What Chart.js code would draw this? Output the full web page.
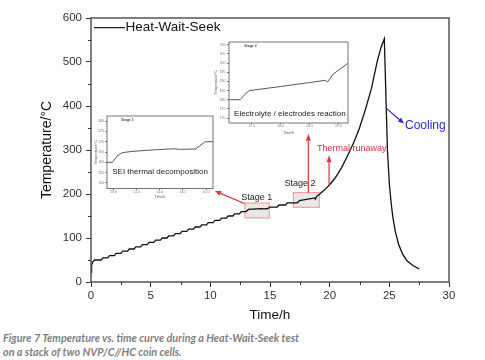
<!DOCTYPE html>
<html><head><meta charset="utf-8">
<script src="https://cdn.jsdelivr.net/npm/chart.js@4.4.1/dist/chart.umd.min.js"></script>
<style>
html,body{margin:0;padding:0;background:#fff;}
body{width:485px;height:360px;overflow:hidden;position:relative;}
canvas{position:absolute;}
#main{left:0;top:0;}
#in1{left:87px;top:112px;}
#in2{left:205px;top:38px;}
.cap{position:absolute;left:3px;font-family:Lato,"Open Sans",sans-serif;font-style:italic;font-weight:bold;font-size:10.8px;color:#7f7f7f;white-space:nowrap;line-height:13px;}
</style></head>
<body>
<canvas id="main" width="485" height="325"></canvas>
<canvas id="in1" width="130" height="90"></canvas>
<canvas id="in2" width="148" height="100"></canvas>
<div class="cap" id="cap1" style="top:331px">Figure 7 Temperature vs. time curve during a Heat-Wait-Seek test</div>
<div class="cap" id="cap2" style="top:345px">on a stack of two NVP/C//HC coin cells.</div>
<script>
// ---------- data ----------
const mainTimeH = [0, 0.05, 0.15, 0.3,
  0.85, 1.00, 1.40, 1.55, 1.95, 2.10, 2.51, 2.66, 3.06, 3.21, 3.61, 3.76,
  4.16, 4.31, 4.71, 4.86, 5.27, 5.42, 5.82, 5.97, 6.37, 6.52, 6.92, 7.07,
  7.47, 7.62, 8.03, 8.18, 8.58, 8.73, 9.13, 9.28, 9.68, 9.83, 10.23, 10.38,
  10.79, 10.94, 11.34, 11.49, 11.89, 12.04, 12.44, 12.59, 13.00, 13.20,
  14.30, 14.45, 14.78, 14.98, 15.60, 15.75, 16.30, 16.45, 17.30, 17.46,
  18.78, 18.81, 18.91, 19.17, 19.6, 20.0, 20.5, 21.0, 21.5, 22.0, 22.5,
  23.0, 23.5, 24.0, 24.3, 24.58, 24.84, 25.0, 25.15, 25.29, 25.5, 25.76,
  26.1, 26.46, 27.0, 27.5];
const mainTempC = [22, 38, 46, 50,
  50, 55, 55, 60, 60, 65, 65, 70, 70, 75, 75, 80,
  80, 85, 85, 90, 90, 95, 95, 100, 100, 105, 105, 110,
  110, 115, 115, 120, 120, 125, 125, 130, 130, 135, 135, 140,
  140, 145, 145, 150, 150, 155, 155, 160, 160, 165,
  166.6, 166.3, 166.5, 170, 170, 175, 175, 180, 180, 185,
  191, 190, 194.5, 200, 210, 221, 238, 260, 287, 316, 350,
  392, 440, 503, 533, 553, 300, 224, 180, 148, 115, 87,
  64, 49, 37, 30];
const mainXTicks = [0, 5, 10, 15, 20, 25, 30];
const mainYTicks = [0, 100, 200, 300, 400, 500, 600];
const mainXMinor = [2.5, 7.5, 12.5, 17.5, 22.5, 27.5];
const mainYMinor = [50, 150, 250, 350, 450, 550];

const stage1TimeH = [12.86, 12.98, 13.08, 13.19, 13.4, 13.7, 14.0, 14.3, 14.45, 14.78, 14.98, 15.15];
const stage1TempC = [160, 160, 163, 164.7, 165.3, 165.8, 166.2, 166.6, 166.3, 166.5, 170, 170];
const stage1XTicks = [13.0, 13.5, 14.0, 14.5, 15.0];
const stage1YTicks = [150, 155, 160, 165, 170, 175, 180];

const stage2TimeH = [17.11, 17.30, 17.40, 17.46, 18.0, 18.5, 18.78, 18.81, 18.91, 19.17];
const stage2TempC = [180, 180, 183.5, 185, 187.2, 189.4, 190.6, 189.6, 194, 200];
const stage2XTicks = [17.5, 18.0, 18.5, 19.0];
const stage2YTicks = [170, 175, 180, 185, 190, 195, 200, 205, 210];

// ---------- helpers ----------
const F = '"Liberation Sans", Arial, sans-serif';
const pts = (xs, ys) => xs.map((x, i) => ({x: x, y: ys[i]}));

function arrow(ctx, x0, y0, x1, y1, color, w, hl, hw) {
  ctx.strokeStyle = color; ctx.fillStyle = color; ctx.lineWidth = w;
  const ang = Math.atan2(y1 - y0, x1 - x0);
  const bx = x1 - hl * Math.cos(ang), by = y1 - hl * Math.sin(ang);
  ctx.beginPath(); ctx.moveTo(x0, y0); ctx.lineTo(bx, by); ctx.stroke();
  ctx.beginPath();
  ctx.moveTo(x1, y1);
  ctx.lineTo(bx + hw * Math.sin(ang), by - hw * Math.cos(ang));
  ctx.lineTo(bx - hw * Math.sin(ang), by + hw * Math.cos(ang));
  ctx.closePath(); ctx.fill();
}

const deco = {
  id: 'deco',
  beforeDatasetsDraw(chart, args, o) {
    const ctx = chart.ctx, X = v => chart.scales.x.getPixelForValue(v), Y = v => chart.scales.y.getPixelForValue(v);
    ctx.save();
    (o.boxes || []).forEach(b => {
      ctx.fillStyle = b.fill; ctx.strokeStyle = b.stroke; ctx.lineWidth = 1;
      const l = X(b.x0), r = X(b.x1), t = Y(b.y1), bt = Y(b.y0);
      ctx.fillRect(l, t, r - l, bt - t); ctx.strokeRect(l, t, r - l, bt - t);
    });
    ctx.restore();
  },
  afterDraw(chart, args, o) {
    const ctx = chart.ctx, a = chart.chartArea;
    const X = v => chart.scales.x.getPixelForValue(v), Y = v => chart.scales.y.getPixelForValue(v);
    ctx.save();
    if (o.frame) {
      ctx.strokeStyle = o.frame.color; ctx.lineWidth = o.frame.width;
      ctx.strokeRect(a.left, a.top, a.right - a.left, a.bottom - a.top);
    }
    ctx.strokeStyle = o.minorColor || '#444'; ctx.lineWidth = 1;
    (o.minorX || []).forEach(v => { ctx.beginPath(); ctx.moveTo(Math.round(X(v)) + 0.5, a.bottom); ctx.lineTo(Math.round(X(v)) + 0.5, a.bottom + o.minorLen); ctx.stroke(); });
    (o.minorY || []).forEach(v => { ctx.beginPath(); ctx.moveTo(a.left, Math.round(Y(v)) + 0.5); ctx.lineTo(a.left - o.minorLen, Math.round(Y(v)) + 0.5); ctx.stroke(); });
    (o.lines || []).forEach(l => {
      ctx.strokeStyle = l.color; ctx.lineWidth = l.width;
      ctx.beginPath(); ctx.moveTo(X(l.x0), Y(l.y0)); ctx.lineTo(X(l.x1), Y(l.y1)); ctx.stroke();
    });
    (o.arrows || []).forEach(r => arrow(ctx, X(r.x0), Y(r.y0), X(r.x1), Y(r.y1), r.color, r.width, r.hl, r.hw));
    (o.texts || []).forEach(t => {
      ctx.font = (t.bold ? 'bold ' : '') + t.size + 'px ' + F;
      ctx.fillStyle = t.color; ctx.textAlign = t.align || 'center'; ctx.textBaseline = 'middle';
      ctx.fillText(t.text, X(t.x), Y(t.y));
    });
    ctx.restore();
  }
};

function axis(o) {
  return {
    type: 'linear', min: o.min, max: o.max, position: o.pos,
    afterBuildTicks: s => { s.ticks = o.ticks.map(v => ({value: v})); },
    afterFit: s => { if (o.pos === 'left') s.width = o.size; else s.height = o.size; },
    border: {display: false},
    grid: {drawOnChartArea: false, drawTicks: true, tickLength: o.tl, tickColor: o.tc, tickWidth: 1},
    ticks: {font: {family: F, size: o.fs}, color: o.col, padding: o.pad, autoSkip: false, maxRotation: 0, callback: v => o.fmt(v)},
    title: {display: true, text: o.title, font: {family: F, size: o.tfs}, color: o.tcol, padding: o.tpad}
  };
}

function makeChart(id, data, lineColor, lineWidth, pad, xo, yo, decoOpts) {
  return new Chart(document.getElementById(id), {
    type: 'line',
    data: {datasets: [{label: 'Heat-Wait-Seek', data: data, borderColor: lineColor, borderWidth: lineWidth, pointRadius: 0, tension: 0, fill: false}]},
    options: {
      responsive: false, animation: false, devicePixelRatio: 1,
      layout: {padding: pad},
      plugins: {legend: {display: false}, tooltip: {enabled: false}, deco: decoOpts},
      scales: {x: axis(xo), y: axis(yo)}
    },
    plugins: [deco]
  });
}

// ---------- main chart ----------
makeChart('main', pts(mainTimeH, mainTempC), '#111', 1.3,
  {left: 0, top: 18, right: 36, bottom: 0},
  {min: 0, max: 30, pos: 'bottom', ticks: mainXTicks, size: 43, tl: 5, tc: '#333', fs: 11.5, col: '#333', pad: 2, fmt: v => String(v),
   title: 'Time/h', tfs: 13.5, tcol: '#111', tpad: {top: 0, bottom: 1.6}},
  {min: 0, max: 600, pos: 'left', ticks: mainYTicks, size: 91, tl: 5, tc: '#333', fs: 11.5, col: '#333', pad: 4, fmt: v => String(v),
   title: 'Temperature/°C', tfs: 14, tcol: '#111', tpad: {top: 39, bottom: 0}},
  {
    frame: {color: '#555', width: 1.5}, minorX: mainXMinor, minorY: mainYMinor, minorLen: 3, minorColor: '#333',
    boxes: [
      {x0: 12.9, x1: 14.94, y0: 145.5, y1: 179.5, fill: 'rgba(205,205,205,0.45)', stroke: '#f09090'},
      {x0: 16.95, x1: 19.13, y0: 169.8, y1: 203, fill: 'rgba(205,205,205,0.45)', stroke: '#f09090'}
    ],
    lines: [{x0: 0.25, x1: 2.85, y0: 578.2, y1: 578.2, color: '#222', width: 1.2}],
    arrows: [
      {x0: 12.9, y0: 178, x1: 10.39, y1: 206.8, color: '#e0303c', width: 1.2, hl: 6, hw: 2.5},
      {x0: 18.21, y0: 203, x1: 18.21, y1: 336.8, color: '#e0303c', width: 1.2, hl: 7, hw: 2.5},
      {x0: 19.95, y0: 219.8, x1: 19.95, y1: 288, color: '#e0303c', width: 1.2, hl: 7, hw: 2.5},
      {x0: 24.78, y0: 394, x1: 26.23, y1: 360, color: '#2a2ad0', width: 1.2, hl: 6, hw: 2.5}
    ],
    texts: [
      {x: 2.9, y: 578.2, text: 'Heat-Wait-Seek', size: 13.5, color: '#111', align: 'left'},
      {x: 13.89, y: 192.5, text: 'Stage 1', size: 9, color: '#222'},
      {x: 17.52, y: 224.3, text: 'Stage 2', size: 9, color: '#222'},
      {x: 21.85, y: 302.7, text: 'Thermal runaway', size: 9, color: '#e0303c'},
      {x: 26.31, y: 356, text: 'Cooling', size: 12, color: '#2a2ad0', align: 'left'}
    ]
  });

// ---------- inset 1 ----------
makeChart('in1', pts(stage1TimeH, stage1TempC), '#444', 0.9,
  {left: 0, top: 4, right: 4, bottom: 0},
  {min: 12.864, max: 15.15, pos: 'bottom', ticks: stage1XTicks, size: 13.5, tl: 1.5, tc: '#777', fs: 3.5, col: '#777', pad: 0, fmt: v => v.toFixed(1),
   title: 'Time/h', tfs: 3.5, tcol: '#555', tpad: {top: 0, bottom: 2.9}},
  {min: 147.3, max: 182.5, pos: 'left', ticks: stage1YTicks, size: 20, tl: 2, tc: '#777', fs: 3.5, col: '#777', pad: 1, fmt: v => String(v),
   title: 'Temperature/°C', tfs: 3.5, tcol: '#555', tpad: {top: 6.9, bottom: 0}},
  {
    frame: {color: '#666', width: 0.9},
    texts: [
      {x: 14.008, y: 155.3, text: 'SEI thermal decomposition', size: 8, color: '#222'},
      {x: 13.306, y: 180.4, text: 'Stage 1', size: 3.5, color: '#444', bold: true}
    ]
  });

// ---------- inset 2 ----------
makeChart('in2', pts(stage2TimeH, stage2TempC), '#444', 0.9,
  {left: 0, top: 4, right: 5, bottom: 0},
  {min: 17.107, max: 19.166, pos: 'bottom', ticks: stage2XTicks, size: 15, tl: 1, tc: '#777', fs: 3.5, col: '#777', pad: 0, fmt: v => v.toFixed(1),
   title: 'Time/h', tfs: 3.5, tcol: '#555', tpad: {top: 0, bottom: 3.2}},
  {min: 167.3, max: 211.5, pos: 'left', ticks: stage2YTicks, size: 24, tl: 2, tc: '#777', fs: 3.5, col: '#777', pad: 1.5, fmt: v => String(v),
   title: 'Temperature/°C', tfs: 3.5, tcol: '#555', tpad: {top: 8.9, bottom: 0}},
  {
    frame: {color: '#666', width: 0.9},
    texts: [
      {x: 18.16, y: 172.2, text: 'Electrolyte / electrodes reaction', size: 8, color: '#222'},
      {x: 17.479, y: 209.2, text: 'Stage 2', size: 3.5, color: '#444', bold: true}
    ]
  });
</script>
</body></html>
